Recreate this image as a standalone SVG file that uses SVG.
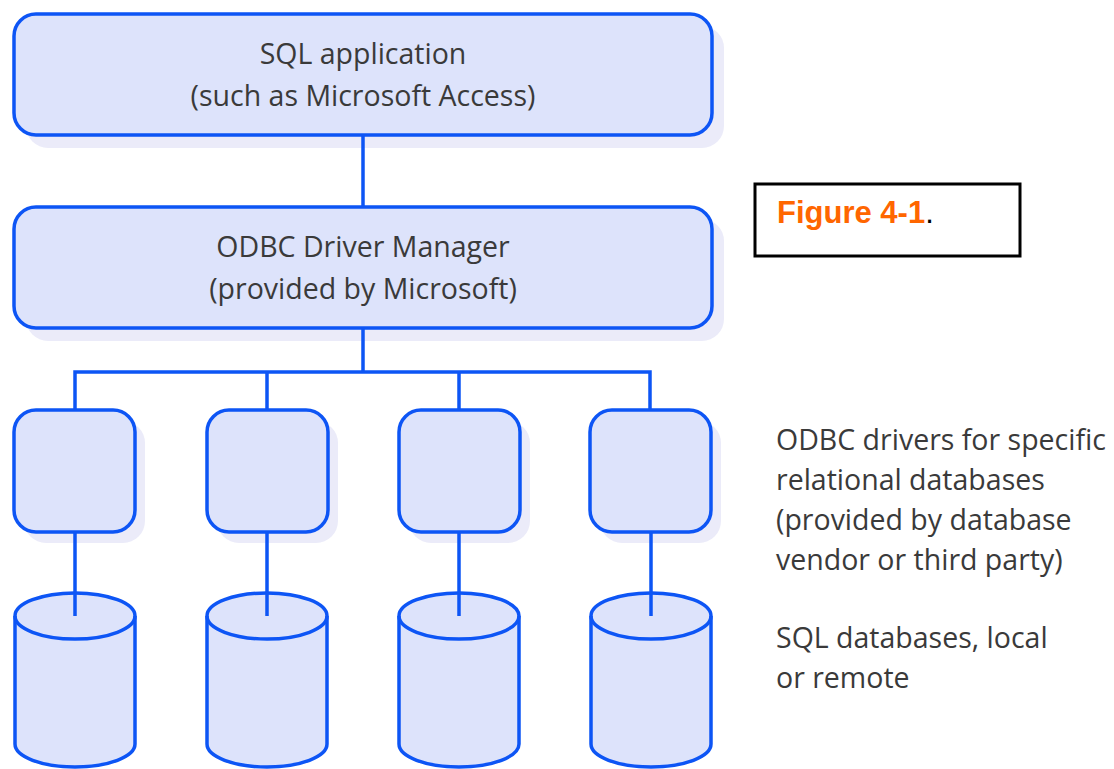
<svg xmlns="http://www.w3.org/2000/svg" width="1114" height="769" viewBox="0 0 1114 769">
<style>
.box{fill:#dde3fb;stroke:#0d55f5;stroke-width:3.5}
.shadow{fill:#ebebf9;stroke:none}
.con{fill:none;stroke:#0d55f5;stroke-width:3.5}
.t{font-family:"Open Sans","Noto Sans",sans-serif;font-size:28.5px;fill:#3a3a3a;}
.c{text-anchor:middle}
</style>
<rect width="1114" height="769" fill="#fff"/>
<g id="sql-application">
<rect class="shadow" x="26" y="26" width="698" height="122" rx="22"/>
<rect class="box" x="14" y="14" width="698" height="121" rx="22"/>
<text class="t c" x="363" y="64">SQL application</text>
<text class="t c" x="363" y="106">(such as Microsoft Access)</text>
</g>
<g id="driver-manager">
<rect class="shadow" x="26" y="219" width="698" height="122" rx="22"/>
<rect class="box" x="14" y="207" width="698" height="121" rx="22"/>
<text class="t c" x="363" y="257">ODBC Driver Manager</text>
<text class="t c" x="363" y="299">(provided by Microsoft)</text>
</g>
<g id="driver1"><rect class="shadow" x="24" y="421" width="121" height="122" rx="22"/><rect class="box" x="14" y="410" width="121" height="122" rx="22"/></g>
<g id="driver2"><rect class="shadow" x="217" y="421" width="121" height="122" rx="22"/><rect class="box" x="207" y="410" width="121" height="122" rx="22"/></g>
<g id="driver3"><rect class="shadow" x="409" y="421" width="121" height="122" rx="22"/><rect class="box" x="399" y="410" width="121" height="122" rx="22"/></g>
<g id="driver4"><rect class="shadow" x="600" y="421" width="121" height="122" rx="22"/><rect class="box" x="590" y="410" width="121" height="122" rx="22"/></g>
<g id="db1"><path class="box" d="M15 616V744A60 23 0 0 0 135 744V616A60 23 0 0 0 15 616Z"/><path class="con" d="M15 616A60 23 0 0 0 135 616"/></g>
<g id="db2"><path class="box" d="M207 616V744A60 23 0 0 0 327 744V616A60 23 0 0 0 207 616Z"/><path class="con" d="M207 616A60 23 0 0 0 327 616"/></g>
<g id="db3"><path class="box" d="M399 616V744A60 23 0 0 0 519 744V616A60 23 0 0 0 399 616Z"/><path class="con" d="M399 616A60 23 0 0 0 519 616"/></g>
<g id="db4"><path class="box" d="M591 616V744A60 23 0 0 0 711 744V616A60 23 0 0 0 591 616Z"/><path class="con" d="M591 616A60 23 0 0 0 711 616"/></g>
<g id="connectors">
<path class="con" d="M363 136V207"/>
<path class="con" d="M363 329V372M75 409V372H650V409M267 372V409M459 372V409"/>
<path class="con" d="M75 533V616M267 533V616M459 533V616M651 533V616"/>
</g>
<g id="drivers-label">
<text class="t" x="776" y="450">ODBC drivers for specific</text>
<text class="t" x="776" y="490">relational databases</text>
<text class="t" x="776" y="530">(provided by database</text>
<text class="t" x="776" y="570">vendor or third party)</text>
</g>
<g id="databases-label">
<text class="t" x="776" y="648">SQL databases, local</text>
<text class="t" x="776" y="688">or remote</text>
</g>
<g id="figure-label">
<rect x="755" y="184" width="265" height="72" fill="#fff" stroke="#000" stroke-width="3"/>
<text x="777" y="223" font-family="Liberation Sans, Arial, sans-serif" font-size="31" font-weight="bold" fill="#ff6600">Figure 4-1<tspan fill="#000" font-weight="normal">.</tspan></text>
</g>
</svg>
